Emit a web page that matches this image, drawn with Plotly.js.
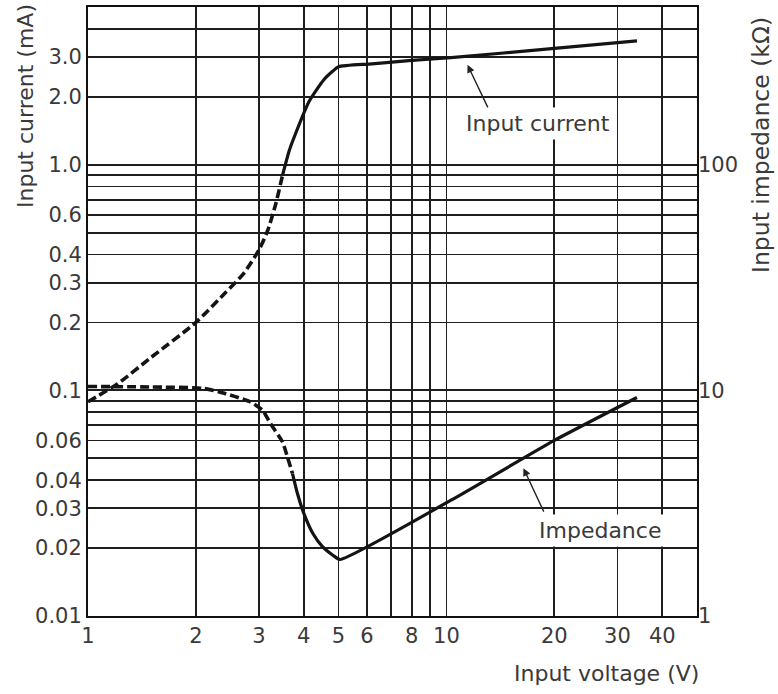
<!DOCTYPE html>
<html>
<head>
<meta charset="utf-8">
<script src="https://cdn.plot.ly/plotly-3.0.1.min.js"></script>
<style>html,body{margin:0;padding:0;background:#fff;}#chart{width:778px;height:694px;}</style>
</head>
<body>
<div id="chart"></div>
<script>
// Input current (mA) vs input voltage (V)
const voltageCurrentDashed = [1.0, 1.21, 1.5, 2.0, 2.39, 2.72, 3.0, 3.17, 3.34, 3.49];
const currentDashed        = [0.089, 0.107, 0.14, 0.2, 0.266, 0.33, 0.42, 0.51, 0.67, 0.9];
const voltageCurrentSolid  = [3.49, 3.64, 3.75, 4.14, 4.55, 4.82, 5.0, 6.2, 8, 10.3, 20, 34];
const currentSolid         = [0.9, 1.15, 1.31, 1.91, 2.38, 2.6, 2.72, 2.8, 2.9, 2.98, 3.28, 3.54];

// Input impedance (kΩ) vs input voltage (V)
const voltageImpedanceDashed = [1.0, 1.5, 2.1, 2.4, 2.84, 3.07, 3.23, 3.49, 3.6, 3.72];
const impedanceDashed        = [10.4, 10.35, 10.2, 9.7, 8.88, 8.16, 7.12, 5.9, 5.07, 4.28];
const voltageImpedanceSolid  = [3.72, 3.84, 4.0, 4.24, 4.51, 4.82, 5.05, 10.3, 20, 34];
const impedanceSolid         = [4.28, 3.49, 2.85, 2.32, 2.03, 1.86, 1.78, 3.26, 6.0, 9.3];

// Tick labels
const xTickVals = [1, 2, 3, 4, 5, 6, 7, 8, 9, 10, 20, 30, 40];
const xTickText = ['1', '2', '3', '4', '5', '6', '', '8', '', '10', '20', '30', '40'];
const yTickVals = [0.01, 0.02, 0.03, 0.04, 0.05, 0.06, 0.07, 0.08, 0.09, 0.1, 0.2, 0.3, 0.4, 0.5, 0.6, 0.7, 0.8, 0.9, 1, 2, 3, 4];
const yTickText = ['0.01', '0.02', '0.03', '0.04', '', '0.06', '', '', '', '0.1', '0.2', '0.3', '0.4', '', '0.6', '', '', '', '1.0', '2.0', '3.0', ''];
const y2TickVals = [1, 10, 100];
const y2TickText = ['1', '10', '100'];

const FONT = 'DejaVu Sans, Arial, sans-serif';
const TXT = '#3a3a3a';
const LINE = '#141414';

const traces = [
  {x: voltageCurrentDashed, y: currentDashed, type: 'scatter', mode: 'lines', yaxis: 'y',
   line: {color: LINE, width: 3.6, dash: '9px,4px', shape: 'spline', smoothing: 0.6}, hoverinfo: 'skip'},
  {x: voltageCurrentSolid, y: currentSolid, type: 'scatter', mode: 'lines', yaxis: 'y',
   line: {color: LINE, width: 3.2, shape: 'spline', smoothing: 0.6}, hoverinfo: 'skip'},
  {x: voltageImpedanceDashed, y: impedanceDashed, type: 'scatter', mode: 'lines', yaxis: 'y2',
   line: {color: LINE, width: 3.6, dash: '9px,4px', shape: 'spline', smoothing: 0.6}, hoverinfo: 'skip'},
  {x: voltageImpedanceSolid, y: impedanceSolid, type: 'scatter', mode: 'lines', yaxis: 'y2',
   line: {color: LINE, width: 3.2, shape: 'spline', smoothing: 0.5}, hoverinfo: 'skip'}
];

const PW = 609;
const layout = {
  width: 778, height: 694,
  margin: {l: 88, r: 81, t: 7, b: 78, pad: 0},
  paper_bgcolor: '#fff', plot_bgcolor: '#fff',
  showlegend: false,
  font: {family: FONT, color: TXT, size: 21},
  xaxis: {
    type: 'log', range: [0, Math.log10(50)],
    tickmode: 'array', tickvals: xTickVals, ticktext: xTickText,
    showgrid: true, gridcolor: '#1e1e1e', gridwidth: 1.8,
    showline: true, mirror: true, linecolor: '#111', linewidth: 2,
    ticks: '', zeroline: false, fixedrange: true,
    tickfont: {family: FONT, size: 21, color: TXT}
  },
  yaxis: {
    type: 'log', range: [-2, Math.log10(5)],
    tickmode: 'array', tickvals: yTickVals, ticktext: yTickText,
    showgrid: true, gridcolor: '#1e1e1e', gridwidth: 1.8,
    showline: true, mirror: true, linecolor: '#111', linewidth: 2,
    ticks: '', zeroline: false, fixedrange: true,
    tickfont: {family: FONT, size: 21, color: TXT}
  },
  yaxis2: {
    type: 'log', range: [0, Math.log10(500)], overlaying: 'y', side: 'right',
    tickmode: 'array', tickvals: y2TickVals, ticktext: y2TickText,
    showgrid: false, showline: false, ticks: '', zeroline: false, fixedrange: true,
    tickfont: {family: FONT, size: 21, color: TXT}
  },
  annotations: [
    {xref: 'paper', yref: 'paper', x: (25 - 88) / PW, y: (616 - 106) / PW,
     text: 'Input current (mA)', textangle: -90, showarrow: false,
     xanchor: 'center', yanchor: 'middle', font: {family: FONT, size: 22, color: TXT}},
    {xref: 'paper', yref: 'paper', x: (761 - 88) / PW, y: (616 - 145) / PW,
     text: 'Input impedance (kΩ)', textangle: -90, showarrow: false,
     xanchor: 'center', yanchor: 'middle', font: {family: FONT, size: 23.5, color: TXT}},
    {xref: 'paper', yref: 'paper', x: (701 - 88) / PW, y: (616 - 673) / PW,
     text: 'Input voltage (V)', showarrow: false,
     xanchor: 'right', yanchor: 'middle', font: {family: FONT, size: 22, color: TXT}},
    {xref: 'x', yref: 'y', x: Math.log10(18.0), y: Math.log10(1.53),
     text: 'Input current', showarrow: false, bgcolor: '#fff', borderpad: 3,
     xanchor: 'center', yanchor: 'middle', font: {family: FONT, size: 22, color: TXT}},
    {xref: 'x', yref: 'y', x: Math.log10(11.45), y: Math.log10(2.77),
     text: '', showarrow: true, ax: 21, ay: 44, arrowhead: 2, arrowsize: 1.1, arrowwidth: 1.4, arrowcolor: '#222'},
    {xref: 'x', yref: 'y2', x: Math.log10(26.8), y: Math.log10(2.40),
     text: 'Impedance', showarrow: false, bgcolor: '#fff', borderpad: 3,
     xanchor: 'center', yanchor: 'middle', font: {family: FONT, size: 22, color: TXT}},
    {xref: 'x', yref: 'y2', x: Math.log10(16.4), y: Math.log10(4.52),
     text: '', showarrow: true, ax: 21, ay: 45, arrowhead: 2, arrowsize: 1.1, arrowwidth: 1.4, arrowcolor: '#222'}
  ]
};

Plotly.newPlot('chart', traces, layout, {displayModeBar: false, staticPlot: true});
</script>
</body>
</html>
